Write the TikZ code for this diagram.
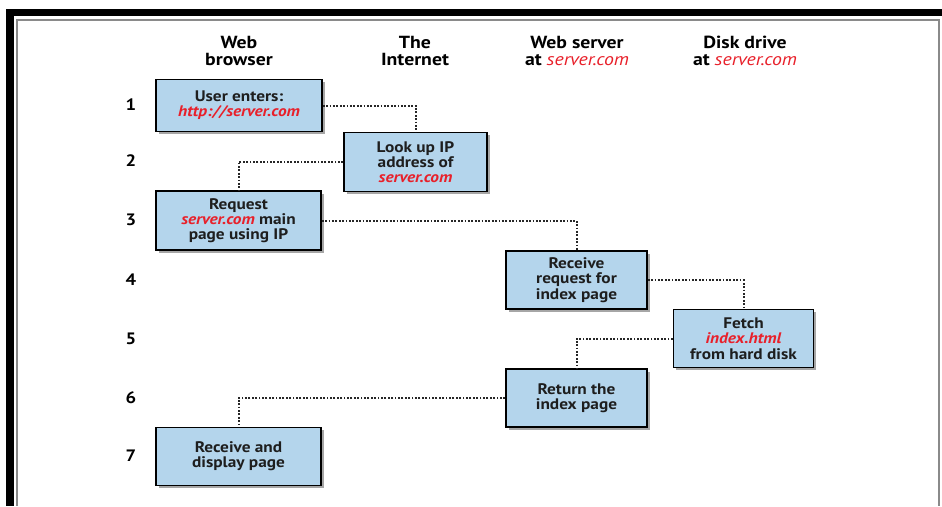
\documentclass[tikz,border=0pt]{standalone}
\usepackage{fontspec}
\setmainfont{PT Sans}[FakeStretch=1.13]
\usetikzlibrary{shadows}
\definecolor{boxblue}{HTML}{B4D5EC}
\definecolor{urlred}{HTML}{E8202A}
\definecolor{framegray}{HTML}{8A8A8A}
\definecolor{txt}{HTML}{1E1E1E}
\newcommand{\red}[1]{\textcolor{urlred}{\itshape #1}}
\tikzset{
  stepbox/.style={draw=black, line width=1.5pt, fill=boxblue, align=center, text=txt,
    font=\fontsize{15.3}{15.3}\selectfont\bfseries, inner sep=2pt,
    drop shadow={shadow xshift=2.5pt, shadow yshift=-2.5pt, opacity=0.35, fill=black}},
  header/.style={align=center, font=\fontsize{17.5}{17.5}\selectfont\bfseries},
  rownum/.style={font=\fontsize{16.5}{17}\selectfont\bfseries},
  link/.style={draw=black!85, line width=2pt, dash pattern=on 1.8pt off 1.6pt}
}
\begin{document}
\begin{tikzpicture}[x=1pt,y=-1pt]
\useasboundingbox (0,0) rectangle (942,506);
% frame
\fill[black] (6,9) rectangle (942,16);
\fill[black] (6,9) rectangle (14,506);
\draw[framegray, line width=1.4pt] (17,506) -- (17,20) -- (939,20) -- (939,506);
% headers
\node[header] (h1) at (239,51) {Web\\browser};
\node[header] (h2) at (415,51) {The\\Internet};
\node[header] (h3) at (577,51) {Web server\\at \red{\mdseries server.com}};
\node[header] (h4) at (745,51) {Disk drive\\at \red{\mdseries server.com}};
% row numbers
\node[rownum] (r1) at (131,105) {1};
\node[rownum] (r2) at (131,161) {2};
\node[rownum] (r3) at (131,220) {3};
\node[rownum] (r4) at (131,280) {4};
\node[rownum] (r5) at (131,339) {5};
\node[rownum] (r6) at (131,398) {6};
\node[rownum] (r7) at (131,456) {7};
% boxes
\node[stepbox, minimum width=166pt, minimum height=52pt] (b1) at (239,105.5) {User enters:\\\red{http://server.com}};
\node[stepbox, minimum width=143pt, minimum height=59pt] (b2) at (415.5,162) {Look up IP\\address of\\\red{server.com}};
\node[stepbox, minimum width=165pt, minimum height=59pt] (b3) at (238.5,220.5) {Request\\\red{server.com} main\\page using IP};
\node[stepbox, minimum width=141pt, minimum height=58pt] (b4) at (576.5,280) {Receive\\request for\\index page};
\node[stepbox, minimum width=140pt, minimum height=58pt] (b5) at (743.5,338.5) {Fetch\\\red{index.html}\\from hard disk};
\node[stepbox, minimum width=141pt, minimum height=58pt] (b6) at (576.5,398) {Return the\\index page};
\node[stepbox, minimum width=165pt, minimum height=58pt] (b7) at (238.5,456.5) {Receive and\\display page};
% connectors
\draw[link] (b1.east) -| (b2.north);
\draw[link] (b2.west) -| (b3.north);
\draw[link] (b3.east) -| (b4.north);
\draw[link] (b4.east) -| (b5.north);
\draw[link] (b5.west) -| (b6.north);
\draw[link] (b6.west) -| (b7.north);
\end{tikzpicture}
\end{document}
